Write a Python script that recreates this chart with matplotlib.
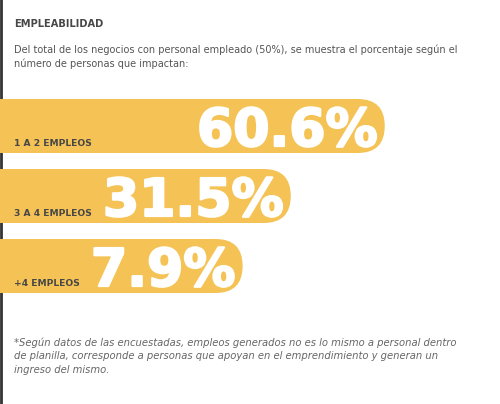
import matplotlib.pyplot as plt
import matplotlib.patheffects as pe
from matplotlib.patches import FancyBboxPatch

# data
categories = ['1 A 2 EMPLEOS', '3 A 4 EMPLEOS', '+4 EMPLEOS']
values = [60.6, 31.5, 7.9]

title = 'EMPLEABILIDAD'
intro = ('Del total de los negocios con personal empleado (50%), se muestra el porcentaje según el\n'
         'número de personas que impactan:')
note = ('*Según datos de las encuestadas, empleos generados no es lo mismo a personal dentro\n'
        'de planilla, corresponde a personas que apoyan en el emprendimiento y generan un\n'
        'ingreso del mismo.')

bar_color = '#F5C355'
dark = '#474747'

fig = plt.figure(figsize=(5, 4.04), dpi=100)
ax = fig.add_axes([0, 0, 1, 1])
ax.set_xlim(0, 500)
ax.set_ylim(404, 0)
ax.axis('off')

# left border line
ax.axvline(0.8, color='#333333', lw=2)

ax.text(14, 24, title, fontsize=7.1, fontweight='bold', color=dark, va='center')
ax.text(14, 56.5, intro, fontsize=7.05, color='#555555', va='center', linespacing=1.45)
ax.text(14, 356, note, fontsize=7.2, color='#666666', style='italic', va='center', linespacing=1.42)

# bars sized to fit their number
num_x = [197, 103, 91]
bar_h = 54
fig.canvas.draw()
inv = ax.transData.inverted()
for i, (cat, val) in enumerate(zip(categories, values)):
    top = 99 + i * 70
    bottom = top + bar_h
    ax.text(14, bottom - 7, cat, fontsize=6.6, fontweight='bold', color=dark, va='baseline', zorder=3)
    t = ax.text(num_x[i], bottom - 7, f'{val:.1f}%', fontsize=37.5, fontweight='bold',
                color='white', va='baseline', zorder=3,
                path_effects=[pe.withStroke(linewidth=1.6, foreground='white')])
    bb = t.get_window_extent(renderer=fig.canvas.get_renderer())
    x_end = inv.transform((bb.x1, bb.y0))[0] + 7
    patch = FancyBboxPatch((-60, top), x_end + 60, bar_h,
                           boxstyle=f'round,pad=0,rounding_size={bar_h / 2}',
                           fc=bar_color, ec='none', zorder=2)
    ax.add_patch(patch)

fig.savefig('out.png', dpi=100)
